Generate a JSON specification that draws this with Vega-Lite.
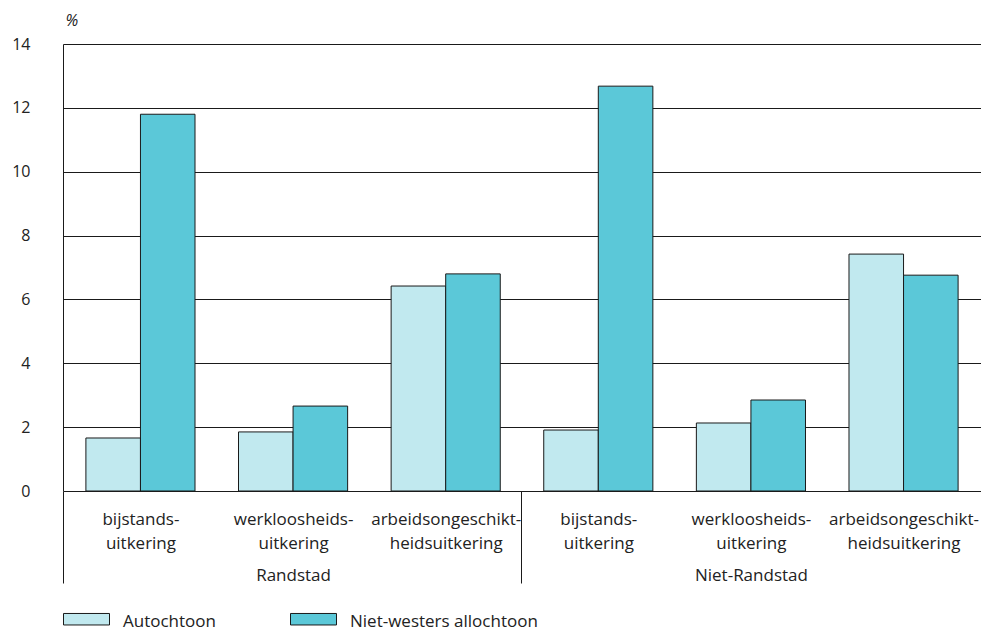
{
  "$schema": "https://vega.github.io/schema/vega-lite/v6.json",
  "width": 918,
  "height": 447,
  "autosize": "none",
  "padding": {"left": 63, "top": 44, "right": 0, "bottom": 139},
  "background": "white",
  "config": {"view": {"stroke": null}, "font": "Open Sans"},
  "data": {
    "values": [
      {"groep": "R1", "regio": "Randstad", "uitkering": "bijstandsuitkering", "herkomst": "Autochtoon", "pct": 1.66},
      {"groep": "R1", "regio": "Randstad", "uitkering": "bijstandsuitkering", "herkomst": "Niet-westers allochtoon", "pct": 11.8},
      {"groep": "R2", "regio": "Randstad", "uitkering": "werkloosheidsuitkering", "herkomst": "Autochtoon", "pct": 1.85},
      {"groep": "R2", "regio": "Randstad", "uitkering": "werkloosheidsuitkering", "herkomst": "Niet-westers allochtoon", "pct": 2.66},
      {"groep": "R3", "regio": "Randstad", "uitkering": "arbeidsongeschiktheidsuitkering", "herkomst": "Autochtoon", "pct": 6.42},
      {"groep": "R3", "regio": "Randstad", "uitkering": "arbeidsongeschiktheidsuitkering", "herkomst": "Niet-westers allochtoon", "pct": 6.8},
      {"groep": "N1", "regio": "Niet-Randstad", "uitkering": "bijstandsuitkering", "herkomst": "Autochtoon", "pct": 1.91},
      {"groep": "N1", "regio": "Niet-Randstad", "uitkering": "bijstandsuitkering", "herkomst": "Niet-westers allochtoon", "pct": 12.68},
      {"groep": "N2", "regio": "Niet-Randstad", "uitkering": "werkloosheidsuitkering", "herkomst": "Autochtoon", "pct": 2.13},
      {"groep": "N2", "regio": "Niet-Randstad", "uitkering": "werkloosheidsuitkering", "herkomst": "Niet-westers allochtoon", "pct": 2.85},
      {"groep": "N3", "regio": "Niet-Randstad", "uitkering": "arbeidsongeschiktheidsuitkering", "herkomst": "Autochtoon", "pct": 7.42},
      {"groep": "N3", "regio": "Niet-Randstad", "uitkering": "arbeidsongeschiktheidsuitkering", "herkomst": "Niet-westers allochtoon", "pct": 6.76}
    ]
  },
  "mark": {"type": "bar", "stroke": "#1a1a1a", "strokeWidth": 1},
  "encoding": {
    "x": {
      "field": "groep",
      "type": "nominal",
      "sort": ["R1", "R2", "R3", "N1", "N2", "N3"],
      "scale": {"paddingInner": 0.285, "paddingOuter": 0.15},
      "axis": {
        "title": null,
        "domain": false,
        "grid": false,
        "ticks": true,
        "tickSize": 92,
        "tickColor": "#1a1a1a",
        "tickWidth": 1,
        "tickOffset": -77,
        "labelOffset": 77,
        "tickOpacity": {"condition": {"test": "datum.value == 'R1' || datum.value == 'N1'", "value": 1}, "value": 0},
        "labelPadding": -72,
        "labelAngle": 0,
        "labelFontSize": 17,
        "labelLineHeight": 8,
        "labelColor": "#222222",
        "labelOverlap": false,
        "labelBound": false,
        "labelLimit": 300,
        "labelExpr": "datum.value == 'R1' || datum.value == 'N1' ? ['bijstands-', '\u200b', '\u200b', 'uitkering'] : datum.value == 'R2' ? ['werkloosheids-', '\u200b', '\u200b', 'uitkering', '\u200b', '\u200b', '\u200b', 'Randstad'] : datum.value == 'N2' ? ['werkloosheids-', '\u200b', '\u200b', 'uitkering', '\u200b', '\u200b', '\u200b', 'Niet-Randstad'] : ['arbeidsongeschikt-', '\u200b', '\u200b', 'heidsuitkering']"
      }
    },
    "xOffset": {
      "field": "herkomst",
      "type": "nominal",
      "sort": ["Autochtoon", "Niet-westers allochtoon"],
      "scale": {"paddingInner": 0, "paddingOuter": 0}
    },
    "y": {
      "field": "pct",
      "type": "quantitative",
      "scale": {"domain": [0, 14], "nice": false},
      "axis": {
        "values": [0, 2, 4, 6, 8, 10, 12, 14],
        "title": "%",
        "titleAngle": 0,
        "titleX": 2,
        "titleY": -24,
        "titleAlign": "left",
        "titleBaseline": "middle",
        "titleFontStyle": "italic",
        "titleFontWeight": "normal",
        "titleFontSize": 16,
        "titleColor": "#222222",
        "grid": true,
        "gridColor": "#1a1a1a",
        "gridOpacity": 1,
        "gridWidth": 1,
        "ticks": false,
        "domain": true,
        "domainColor": "#1a1a1a",
        "domainWidth": 1,
        "labelPadding": 33,
        "labelFontSize": 16,
        "labelColor": "#222222"
      }
    },
    "color": {
      "field": "herkomst",
      "type": "nominal",
      "sort": ["Autochtoon", "Niet-westers allochtoon"],
      "scale": {"range": ["#c1e9ef", "#5bc8d8"]},
      "legend": {
        "orient": "none",
        "legendX": 0,
        "legendY": 554,
        "direction": "horizontal",
        "title": null,
        "symbolType": "M-1,-0.36H1V0.14H-1Z",
        "symbolSize": 2116,
        "symbolStrokeColor": "#1a1a1a",
        "symbolStrokeWidth": 1,
        "symbolOpacity": 1,
        "labelFontSize": 17,
        "labelOffset": 13,
        "labelLimit": 300,
        "labelColor": "#222222",
        "columnPadding": 72
      }
    }
  }
}
